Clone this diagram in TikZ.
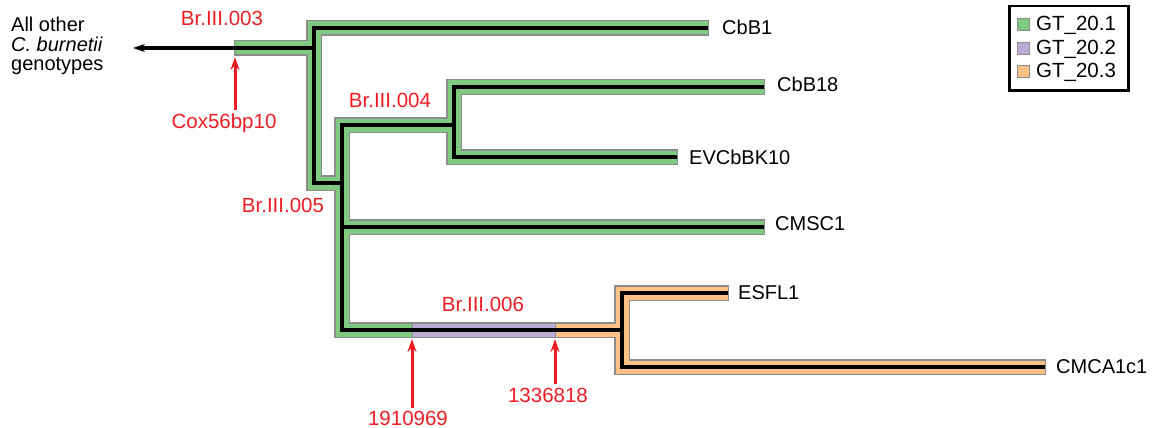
\documentclass[tikz,border=0pt]{standalone}
\usepackage{fontspec}
\setmainfont{Liberation Sans}
\usetikzlibrary{arrows.meta}
\definecolor{gtgreen}{RGB}{128,201,128}
\definecolor{gtpurple}{RGB}{186,172,212}
\definecolor{gtorange}{RGB}{253,193,134}
\definecolor{bandedge}{RGB}{140,140,140}
\definecolor{lblred}{RGB}{237,28,36}
\begin{document}
\begin{tikzpicture}[x=1pt,y=-1pt,
  bandedgeline/.style={draw=bandedge, line width=15.5pt, shorten <=-1pt, shorten >=-1pt},
  bandfill/.style={draw=#1, line width=13pt},
  branch/.style={draw=black, line width=3.5pt},
  leaf/.style={anchor=west, inner sep=0pt, font=\fontsize{20}{22}\selectfont},
  redlbl/.style={inner sep=0pt, text=lblred, font=\fontsize{20.5}{22}\selectfont},
  redarrow/.style={draw=lblred, line width=3pt, -{Stealth[length=13pt,width=9pt]}},
  swatch/.style={draw=bandedge, line width=1pt, minimum size=12pt, inner sep=0pt},
  legtext/.style={anchor=west, inner sep=0pt, font=\fontsize{20.5}{22}\selectfont}]
\useasboundingbox (0,0) rectangle (1154,428);
% tree coordinates
\coordinate (root) at (133,48);
\coordinate (b3) at (235,48);
\coordinate (j1) at (314,48);
\coordinate (j1t) at (314,28);
\coordinate (j1b) at (314,183);
\coordinate (j2b) at (342,183);
\coordinate (j2t) at (342,125);
\coordinate (j3) at (454,125);
\coordinate (j3t) at (454,87);
\coordinate (j3b) at (454,157);
\coordinate (j2m) at (342,227);
\coordinate (j2e) at (342,330);
\coordinate (m1) at (412,330);
\coordinate (m2) at (555,330);
\coordinate (j4) at (622,330);
\coordinate (j4t) at (622,293);
\coordinate (j4b) at (622,367);
\coordinate (t1) at (708,28);
\coordinate (t2) at (764,87);
\coordinate (t3) at (677,157);
\coordinate (t4) at (764,227);
\coordinate (t5) at (728,293);
\coordinate (t6) at (1045,367);
% band outlines
\draw[bandedgeline] (b3) -- (j1);
\draw[bandedgeline] (t1) -- (j1t) -- (j1b) -- (j2b);
\draw[bandedgeline] (j3) -- (j2t) -- (j2e) -- (m1);
\draw[bandedgeline] (t2) -- (j3t) -- (j3b) -- (t3);
\draw[bandedgeline] (j2m) -- (t4);
\draw[bandedgeline] (m1) -- (m2);
\draw[bandedgeline] (m2) -- (j4);
\draw[bandedgeline] (t5) -- (j4t) -- (j4b) -- (t6);
% band fills
\draw[bandfill=gtgreen] (b3) -- (j1);
\draw[bandfill=gtgreen] (t1) -- (j1t) -- (j1b) -- (j2b);
\draw[bandfill=gtgreen] (j3) -- (j2t) -- (j2e) -- (m1);
\draw[bandfill=gtgreen] (t2) -- (j3t) -- (j3b) -- (t3);
\draw[bandfill=gtgreen] (j2m) -- (t4);
\draw[bandfill=gtpurple] (m1) -- (m2);
\draw[bandfill=gtorange] (m2) -- (j4);
\draw[bandfill=gtorange] (t5) -- (j4t) -- (j4b) -- (t6);
\draw[bandedge, line width=1pt] ([yshift=-7pt]m1) -- ([yshift=7pt]m1);
\draw[bandedge, line width=1pt] ([yshift=-7pt]m2) -- ([yshift=7pt]m2);
% branches
\draw[branch, -{Stealth[length=12pt,width=8pt]}] (j1) -- (root);
\draw[branch] (t1) -- (j1t) -- (j1b) -- (j2b);
\draw[branch] (j3) -- (j2t) -- (j2e) -- (j4);
\draw[branch] (t2) -- (j3t) -- (j3b) -- (t3);
\draw[branch] (j2m) -- (t4);
\draw[branch] (t5) -- (j4t) -- (j4b) -- (t6);
% leaf labels
\node[leaf] (l1) at (722,27) {CbB1};
\node[leaf] (l2) at (777,84) {CbB18};
\node[leaf] (l3) at (689,157) {EVCbBK10};
\node[leaf] (l4) at (775,224) {CMSC1};
\node[leaf] (l5) at (738,293) {ESFL1};
\node[leaf] (l6) at (1056,367) {CMCA1c1};
\node[anchor=north west, inner sep=0pt, align=left, font=\fontsize{20}{19.5}\selectfont] (others) at (11,17)
  {All other\\\textit{C. burnetii}\\genotypes};
% red labels
\node[redlbl] (br3) at (222,18) {Br.III.003};
\node[redlbl] (br4) at (390,100) {Br.III.004};
\node[redlbl] (br5) at (283,205) {Br.III.005};
\node[redlbl] (br6) at (483,304) {Br.III.006};
\node[redlbl] (cox) at (224,123) {Cox56bp10};
\node[redlbl] (s1) at (408,418) {1910969};
\node[redlbl] (s2) at (548,395) {1336818};
\coordinate (a1) at (235,57);
\coordinate (a2) at (412,339);
\coordinate (a3) at (555,339);
\draw[redarrow] (235,110) -- (a1);
\draw[redarrow] (412,408) -- (a2);
\draw[redarrow] (555,384) -- (a3);
% legend
\node[draw=black, line width=2.5pt, minimum width=119pt, minimum height=84pt, anchor=north west, inner sep=0pt] (legend) at (1008,5) {};
\node[swatch, fill=gtgreen] (sw1) at (1023,25) {};
\node[swatch, fill=gtpurple] (sw2) at (1023,49) {};
\node[swatch, fill=gtorange] (sw3) at (1023,72) {};
\node[legtext] (g1) at (1036,25) {GT\_20.1};
\node[legtext] (g2) at (1036,49) {GT\_20.2};
\node[legtext] (g3) at (1036,72) {GT\_20.3};
\end{tikzpicture}
\end{document}
